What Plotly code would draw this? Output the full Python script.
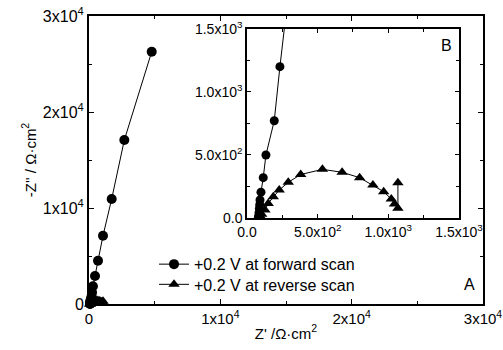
import plotly.graph_objects as go

# Forward scan (circles)
forward_x = [80, 83, 86, 88, 90, 92, 99, 115, 134, 193, 233, 300, 457, 685, 1066, 1727, 2690, 4775]
forward_y = [0, 20, 45, 75, 105, 143, 205, 320, 500, 772, 1201, 1850, 2917, 4510, 7115, 10940, 17080, 26280]

# Reverse scan (triangles)
reverse_x = [76, 82, 90, 104, 127, 150, 186, 228, 292, 380, 534, 673, 797, 891, 967, 1021, 1044, 1068, 1068]
reverse_y = [0, 10, 20, 30, 63, 116, 169, 222, 283, 345, 386, 363, 320, 262, 209, 151, 111, 77, 280]

legend_names = ["+0.2 V at forward scan", "+0.2 V at reverse scan"]

main_tickvals = [0, 10000, 20000, 30000]
main_ticktext = ["0", "1x10<sup>4</sup>", "2x10<sup>4</sup>", "3x10<sup>4</sup>"]
inset_tickvals = [0, 500, 1000, 1500]
inset_ticktext = ["0.0", "5.0x10<sup>2</sup>", "1.0x10<sup>3</sup>", "1.5x10<sup>3</sup>"]

FONT = "Liberation Sans, Arial, sans-serif"

fig = go.Figure()

fig.add_trace(go.Scatter(x=forward_x, y=forward_y, mode="lines+markers", name=legend_names[0],
                         line=dict(color="black", width=1),
                         marker=dict(symbol="circle", size=10, color="black"),
                         cliponaxis=False, xaxis="x", yaxis="y", legend="legend"))
fig.add_trace(go.Scatter(x=reverse_x, y=reverse_y, mode="lines+markers", name=legend_names[1],
                         line=dict(color="black", width=1),
                         marker=dict(symbol="triangle-up", size=10, color="black"),
                         cliponaxis=False, xaxis="x", yaxis="y", legend="legend2"))

fig.add_trace(go.Scatter(x=forward_x, y=forward_y, mode="lines+markers", showlegend=False,
                         line=dict(color="black", width=1),
                         marker=dict(symbol="circle", size=9, color="black"),
                         xaxis="x2", yaxis="y2"))
fig.add_trace(go.Scatter(x=reverse_x, y=reverse_y, mode="lines+markers", showlegend=False,
                         line=dict(color="black", width=1),
                         marker=dict(symbol="triangle-up", size=10, color="black"),
                         xaxis="x2", yaxis="y2"))

axis_common = dict(showgrid=False, zeroline=False, showline=True, linecolor="black",
                   mirror="allticks", ticks="inside", tickcolor="black", automargin=False,
                   ticklabeloverflow="allow")

legend_common = dict(xanchor="left", yanchor="middle", bgcolor="rgba(0,0,0,0)",
                     font=dict(size=16))

fig.update_layout(
    width=503, height=350,
    margin=dict(l=89, r=20, t=16, b=46),
    paper_bgcolor="white", plot_bgcolor="white",
    font=dict(family=FONT, color="black", size=15),
    xaxis=dict(range=[0, 30000], tickvals=main_tickvals, ticktext=main_ticktext,
               linewidth=2, ticklen=5, tickfont=dict(size=15),
               minor=dict(ticks="inside", dtick=5000, ticklen=3, tickcolor="black"),
               title=dict(text="Z' /Ω·cm<sup>2</sup>", font=dict(size=15), standoff=2),
               **axis_common),
    yaxis=dict(range=[0, 30000], tickvals=main_tickvals, ticktext=main_ticktext,
               linewidth=2, ticklen=5, tickfont=dict(size=16),
               minor=dict(ticks="inside", dtick=5000, ticklen=3, tickcolor="black"),
               title=dict(text="-Z'' / Ω·cm<sup>2</sup>", font=dict(size=15), standoff=3),
               **axis_common),
    xaxis2=dict(domain=[0.401, 0.939], anchor="y2", range=[0, 1500],
                tickvals=inset_tickvals, ticktext=inset_ticktext,
                linewidth=1.5, ticklen=4, tickfont=dict(size=14),
                minor=dict(ticks="inside", dtick=250, ticklen=3, tickcolor="black"),
                **axis_common),
    yaxis2=dict(domain=[0.2986, 0.955], anchor="x2", range=[0, 1500],
                tickvals=inset_tickvals, ticktext=inset_ticktext,
                linewidth=1.5, ticklen=4, tickfont=dict(size=14),
                minor=dict(ticks="inside", dtick=250, ticklen=3, tickcolor="black"),
                **axis_common),
    legend=dict(x=0.165, y=0.138, **legend_common),
    legend2=dict(x=0.165, y=0.068, **legend_common),
    annotations=[
        dict(text="A", x=0.985, y=0.03, xref="paper", yref="paper", xanchor="right",
             yanchor="bottom", showarrow=False, font=dict(size=16)),
        dict(text="B", xref="x2 domain", yref="y2 domain", x=0.975, y=0.97,
             xanchor="right", yanchor="top", showarrow=False, font=dict(size=16)),
    ],
)

fig.write_html("out.html", config={"displayModeBar": False},
               post_script="document.body.style.margin='0px';")
